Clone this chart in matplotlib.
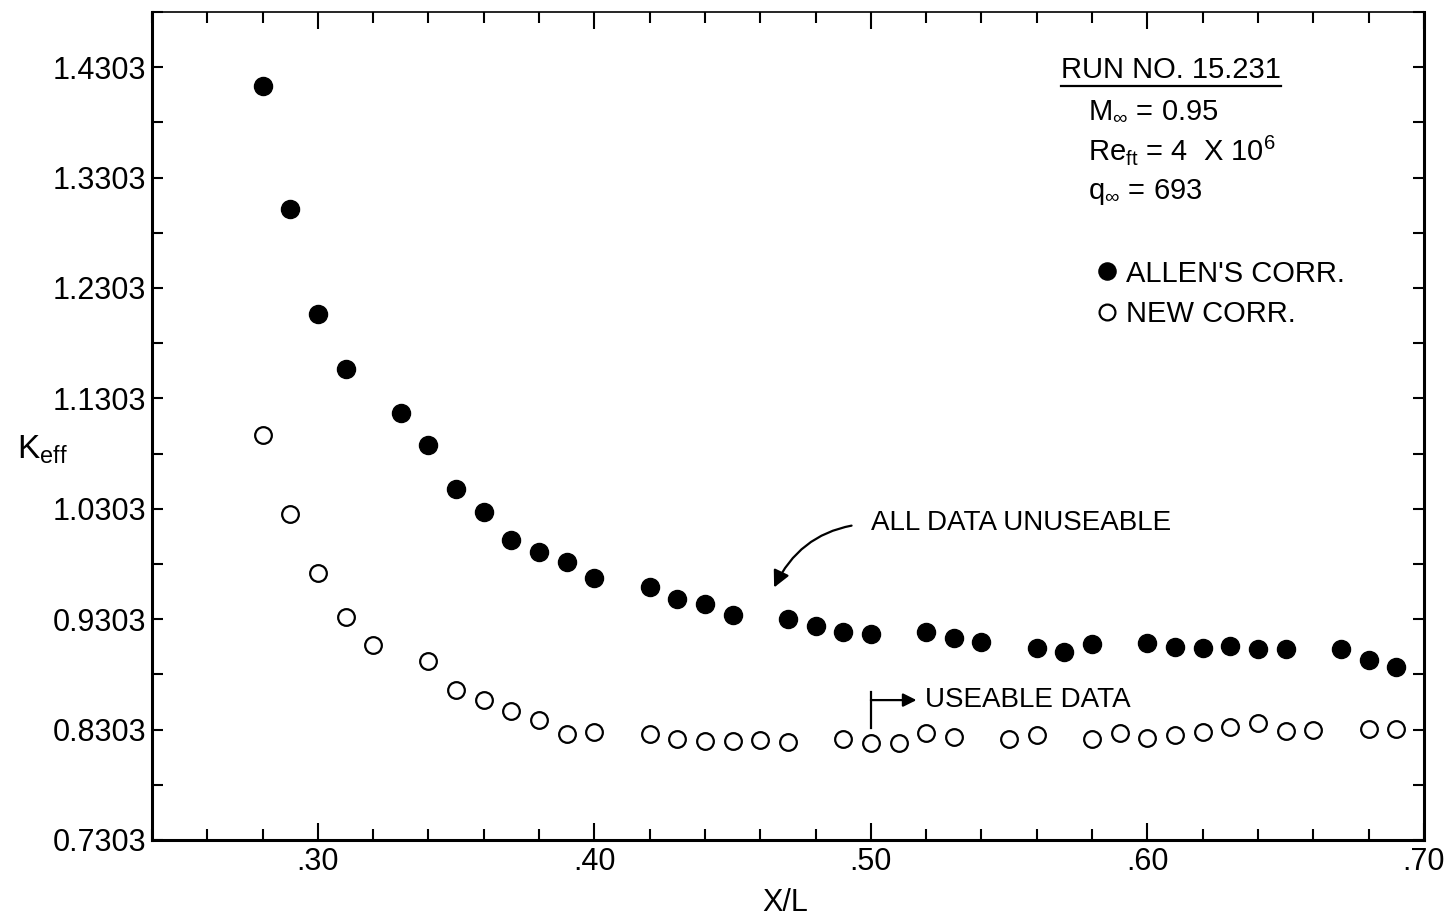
import numpy as np
import matplotlib.pyplot as plt
from matplotlib.ticker import MultipleLocator, FixedLocator, FixedFormatter

plt.rcParams['font.family'] = ['Liberation Sans', 'DejaVu Sans']
plt.rcParams['mathtext.fontset'] = 'custom'
plt.rcParams['mathtext.rm'] = 'Liberation Sans'
plt.rcParams['mathtext.it'] = 'Liberation Sans'
plt.rcParams['mathtext.bf'] = 'Liberation Sans:bold'

# data
xl_allen = [0.28, 0.29, 0.30, 0.31, 0.33, 0.34, 0.35, 0.36, 0.37, 0.38, 0.39, 0.40,
            0.42, 0.43, 0.44, 0.45, 0.47, 0.48, 0.49, 0.50, 0.52, 0.53, 0.54, 0.56,
            0.57, 0.58, 0.60, 0.61, 0.62, 0.63, 0.64, 0.65, 0.67, 0.68, 0.69]
k_allen = [1.413, 1.302, 1.207, 1.157, 1.117, 1.088, 1.048, 1.027, 1.002, 0.991, 0.982, 0.968,
           0.959, 0.949, 0.944, 0.934, 0.930, 0.924, 0.919, 0.917, 0.919, 0.913, 0.910, 0.904,
           0.901, 0.908, 0.909, 0.905, 0.904, 0.906, 0.903, 0.903, 0.903, 0.893, 0.887]

xl_new = [0.28, 0.29, 0.30, 0.31, 0.32, 0.34, 0.35, 0.36, 0.37, 0.38, 0.39, 0.40,
          0.42, 0.43, 0.44, 0.45, 0.46, 0.47, 0.49, 0.50, 0.51, 0.52, 0.53, 0.55,
          0.56, 0.58, 0.59, 0.60, 0.61, 0.62, 0.63, 0.64, 0.65, 0.66, 0.68, 0.69]
k_new = [1.097, 1.026, 0.972, 0.932, 0.907, 0.892, 0.866, 0.857, 0.847, 0.839, 0.826, 0.828,
         0.826, 0.822, 0.820, 0.820, 0.821, 0.819, 0.822, 0.818, 0.818, 0.827, 0.824, 0.822,
         0.825, 0.822, 0.827, 0.823, 0.825, 0.828, 0.833, 0.836, 0.829, 0.830, 0.831, 0.831]

xticks = [0.30, 0.40, 0.50, 0.60, 0.70]
xtick_labels = ['.30', '.40', '.50', '.60', '.70']
yticks = [0.7303, 0.8303, 0.9303, 1.0303, 1.1303, 1.2303, 1.3303, 1.4303]

fig = plt.figure(figsize=(14.5, 9.18), dpi=100)
ax = fig.add_axes([0.1048, 0.085, 0.8772, 0.902])

ax.plot(xl_allen, k_allen, 'o', color='black', markersize=13, label="ALLEN'S CORR.")
ax.plot(xl_new, k_new, 'o', markerfacecolor='white', markeredgecolor='black',
        markeredgewidth=1.6, markersize=12, label='NEW CORR.')

ax.set_xlim(0.24, 0.70)
ax.set_ylim(0.7303, 1.4803)

ax.xaxis.set_major_locator(FixedLocator(xticks))
ax.xaxis.set_major_formatter(FixedFormatter(xtick_labels))
ax.xaxis.set_minor_locator(MultipleLocator(0.02))
ax.yaxis.set_major_locator(FixedLocator(yticks))
ax.yaxis.set_major_formatter(FixedFormatter([f'{v:.4f}' for v in yticks]))
ax.yaxis.set_minor_locator(FixedLocator([v + 0.05 for v in yticks]))

ax.tick_params(axis='x', which='major', direction='in', length=12, width=1.5,
               top=True, labelsize=22, pad=5)
ax.tick_params(axis='x', which='minor', direction='in', length=8, width=1.5, top=True)
ax.tick_params(axis='y', which='both', direction='in', length=8, width=1.5,
               right=True, labelsize=22, pad=4)

for s in ['left', 'bottom', 'right']:
    ax.spines[s].set_linewidth(2.2)
ax.spines['top'].set_linewidth(1.2)

ax.set_xlabel('X/L', fontsize=22)
ax.xaxis.set_label_coords(0.4976, -0.076)
ax.xaxis.label.set_va('center')
ax.set_ylabel(r'K$_{\mathrm{eff}}$', fontsize=24, rotation=0, ha='center', va='center')
ax.yaxis.set_label_coords(-0.086, 0.471)

# run info block
info_fs = 21
t_run = ax.text(0.7146, 0.930, 'RUN NO. 15.231', transform=ax.transAxes,
                fontsize=info_fs, ha='left', va='center')
ax.text(0.7358, 0.8816, r'M$_{\infty}$ = 0.95', transform=ax.transAxes,
        fontsize=info_fs, ha='left', va='center')
ax.text(0.7358, 0.8333, r'Re$_{\mathrm{ft}}$ = 4  X 10$^{6}$', transform=ax.transAxes,
        fontsize=info_fs, ha='left', va='center')
ax.text(0.7358, 0.7826, r'q$_{\infty}$ = 693', transform=ax.transAxes,
        fontsize=info_fs, ha='left', va='center')

leg = ax.legend(loc='upper left', bbox_to_anchor=(0.730, 0.715), frameon=False,
                fontsize=info_fs, handletextpad=0.15, labelspacing=0.42, borderaxespad=0,
                handlelength=1.0, markerscale=0.95)

# underline the run number
fig.canvas.draw()
bb = t_run.get_window_extent().transformed(ax.transAxes.inverted())
ax.plot([bb.x0, bb.x1], [bb.y0 - 0.002, bb.y0 - 0.002], color='black', lw=1.6,
        transform=ax.transAxes, clip_on=False)

# annotations
ax.annotate('ALL DATA UNUSEABLE', xy=(0.465, 0.959), xytext=(0.50, 1.017),
            fontsize=20, ha='left', va='center',
            arrowprops=dict(arrowstyle='-|>', color='black', lw=1.6, mutation_scale=25,
                            connectionstyle='arc3,rad=0.3', relpos=(0, 0.5), shrinkA=12, shrinkB=0))

ax.plot([0.50, 0.50], [0.8317, 0.8642], color='black', lw=1.6)
ax.annotate('', xy=(0.5165, 0.857), xytext=(0.50, 0.857),
            arrowprops=dict(arrowstyle='-|>', color='black', lw=1.6, mutation_scale=20,
                            shrinkA=0, shrinkB=0))
ax.text(0.5195, 0.857, 'USEABLE DATA', fontsize=20, ha='left', va='center')

plt.savefig('out.png', dpi=100)
